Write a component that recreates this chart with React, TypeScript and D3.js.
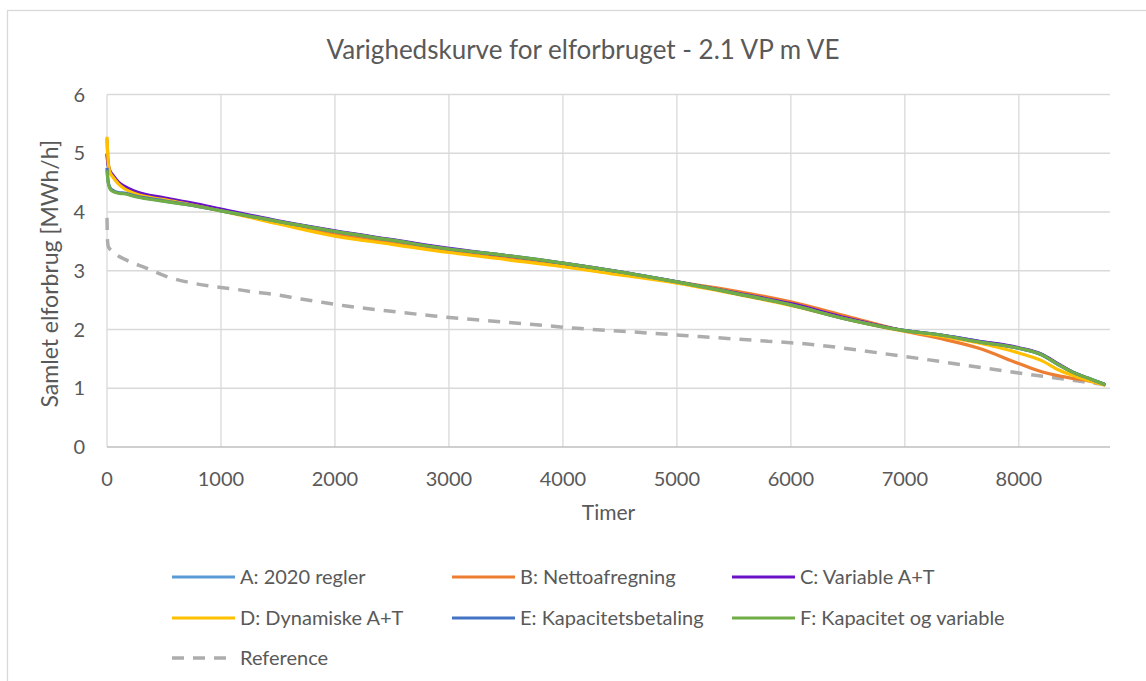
import React, { useEffect, useRef } from 'react';
import * as d3 from 'd3';

// hours on the duration curve (sorted descending load)
const hours = [0, 10, 25, 50, 100, 150, 250, 500, 750, 1000, 1500, 2000, 2500, 3000, 3500, 4000, 4500, 5000, 5500, 6000, 6500, 7000, 7300, 7650, 8000, 8200, 8350, 8500, 8600, 8760];

const seriesA = [4.98, 4.78, 4.68, 4.61, 4.49, 4.42, 4.34, 4.23, 4.14, 4.04, 3.84, 3.67, 3.52, 3.37, 3.25, 3.12, 2.97, 2.81, 2.63, 2.43, 2.18, 1.98, 1.91, 1.8, 1.68, 1.57, 1.4, 1.25, 1.18, 1.06];
const seriesB = [5.25, 4.85, 4.7, 4.62, 4.5, 4.42, 4.33, 4.22, 4.13, 4.03, 3.82, 3.62, 3.48, 3.34, 3.22, 3.1, 2.96, 2.81, 2.66, 2.47, 2.22, 1.97, 1.85, 1.68, 1.42, 1.28, 1.21, 1.16, 1.13, 1.06];
const seriesC = [5.0, 4.8, 4.7, 4.63, 4.51, 4.44, 4.35, 4.24, 4.15, 4.05, 3.85, 3.68, 3.53, 3.38, 3.26, 3.13, 2.98, 2.81, 2.63, 2.44, 2.19, 1.98, 1.91, 1.8, 1.69, 1.58, 1.41, 1.25, 1.17, 1.06];
const seriesD = [5.28, 4.85, 4.68, 4.6, 4.48, 4.4, 4.31, 4.21, 4.12, 4.02, 3.8, 3.59, 3.45, 3.31, 3.19, 3.07, 2.93, 2.79, 2.61, 2.41, 2.17, 1.97, 1.89, 1.77, 1.6, 1.47, 1.31, 1.2, 1.14, 1.05];
const seriesE = [4.75, 4.52, 4.42, 4.37, 4.33, 4.32, 4.27, 4.19, 4.11, 4.02, 3.84, 3.67, 3.52, 3.37, 3.26, 3.13, 2.98, 2.81, 2.62, 2.42, 2.17, 1.98, 1.91, 1.79, 1.68, 1.57, 1.4, 1.25, 1.18, 1.06];
const seriesF = [4.71, 4.5, 4.4, 4.35, 4.32, 4.31, 4.26, 4.18, 4.11, 4.02, 3.84, 3.67, 3.52, 3.37, 3.26, 3.13, 2.98, 2.81, 2.62, 2.42, 2.17, 1.98, 1.91, 1.79, 1.68, 1.57, 1.4, 1.25, 1.18, 1.06];

const refHours = [0, 5, 12, 50, 100, 172, 350, 525, 700, 900, 1110, 1285, 1460, 1700, 1900, 2100, 2450, 2870, 3280, 3715, 4125, 4600, 5200, 5800, 6100, 7000, 8000, 8570, 8760];
const seriesRef = [3.9, 3.5, 3.41, 3.33, 3.25, 3.18, 3.04, 2.9, 2.81, 2.74, 2.69, 2.64, 2.6, 2.52, 2.46, 2.4, 2.32, 2.23, 2.16, 2.09, 2.02, 1.96, 1.88, 1.8, 1.76, 1.54, 1.26, 1.11, 1.06];

const seriesNames = ['A: 2020 regler', 'B: Nettoafregning', 'C: Variable A+T', 'D: Dynamiske A+T', 'E: Kapacitetsbetaling', 'F: Kapacitet og variable'];
const seriesColors = ['#5B9BD5', '#ED7D31', '#6A12C8', '#FFC000', '#4472C4', '#70AD47'];
const refName = 'Reference';
const refColor = '#ADADAD';

const xTicks = [0, 1000, 2000, 3000, 4000, 5000, 6000, 7000, 8000];
const yTicks = [0, 1, 2, 3, 4, 5, 6];

const title = 'Varighedskurve for elforbruget - 2.1 VP m VE';
const xTitle = 'Timer';
const yTitle = 'Samlet elforbrug [MWh/h]';

const App = () => {
  const chartRef = useRef<SVGSVGElement>(null);

  useEffect(() => {
    const width = 1146;
    const height = 681;
    const font = 'Lato, "Open Sans", sans-serif';
    const textColor = '#595959';
    const plot = { left: 107, right: 1110, top: 94.5, bottom: 447 };

    const svg = d3.select(chartRef.current);
    svg.selectAll('*').remove();
    svg.attr('width', width).attr('height', height);

    svg.append('rect').attr('width', width).attr('height', height).attr('fill', '#fff');

    // chart frame (runs off the right and bottom of the picture)
    svg
      .append('rect')
      .attr('x', 7.5)
      .attr('y', 10.5)
      .attr('width', width + 20)
      .attr('height', height + 20)
      .attr('fill', 'none')
      .attr('stroke', '#D9D9D9')
      .attr('stroke-width', 1.3);

    const x = d3.scaleLinear().domain([0, 8800]).range([plot.left, plot.right]);
    const y = d3.scaleLinear().domain([0, 6]).range([plot.bottom, plot.top]);

    // gridlines
    svg
      .append('g')
      .selectAll('line')
      .data(yTicks.slice(1))
      .enter()
      .append('line')
      .attr('x1', plot.left)
      .attr('x2', plot.right)
      .attr('y1', (d) => y(d))
      .attr('y2', (d) => y(d))
      .attr('stroke', '#D9D9D9')
      .attr('stroke-width', 1.3);

    svg
      .append('g')
      .selectAll('line')
      .data(xTicks)
      .enter()
      .append('line')
      .attr('x1', (d) => x(d))
      .attr('x2', (d) => x(d))
      .attr('y1', plot.top)
      .attr('y2', plot.bottom)
      .attr('stroke', '#D9D9D9')
      .attr('stroke-width', 1.3);

    // x axis line
    svg
      .append('line')
      .attr('x1', plot.left)
      .attr('x2', plot.right)
      .attr('y1', y(0))
      .attr('y2', y(0))
      .attr('stroke', '#BFBFBF')
      .attr('stroke-width', 1.3);

    // tick labels
    svg
      .append('g')
      .selectAll('text')
      .data(xTicks)
      .enter()
      .append('text')
      .attr('x', (d) => x(d))
      .attr('y', 486)
      .attr('text-anchor', 'middle')
      .style('font-family', font)
      .style('font-size', '20px')
      .style('fill', textColor)
      .text((d) => d);

    svg
      .append('g')
      .selectAll('text')
      .data(yTicks)
      .enter()
      .append('text')
      .attr('x', 85)
      .attr('y', (d) => y(d) + 7)
      .attr('text-anchor', 'end')
      .style('font-family', font)
      .style('font-size', '20px')
      .style('fill', textColor)
      .text((d) => d);

    // titles
    svg
      .append('text')
      .attr('x', 583)
      .attr('y', 59)
      .attr('text-anchor', 'middle')
      .style('font-family', font)
      .style('font-size', '26px')
      .style('fill', textColor)
      .text(title);

    svg
      .append('text')
      .attr('x', (plot.left + plot.right) / 2)
      .attr('y', 520)
      .attr('text-anchor', 'middle')
      .style('font-family', font)
      .style('font-size', '21px')
      .style('fill', textColor)
      .text(xTitle);

    svg
      .append('text')
      .attr('transform', `translate(58,${(plot.top + plot.bottom) / 2 + 3}) rotate(-90)`)
      .attr('text-anchor', 'middle')
      .style('font-family', font)
      .style('font-size', '23px')
      .style('fill', textColor)
      .text(yTitle);

    const line = d3
      .line<[number, number]>()
      .x((d) => x(d[0]))
      .y((d) => y(d[1]))
      .curve(d3.curveMonotoneX);

    const allSeries = [seriesA, seriesB, seriesC, seriesD, seriesE, seriesF];

    const plotG = svg.append('g');

    plotG
      .append('path')
      .datum(refHours.map((h, i) => [h, seriesRef[i]] as [number, number]))
      .attr('d', line)
      .attr('fill', 'none')
      .attr('stroke', refColor)
      .attr('stroke-width', 3.5)
      .attr('stroke-dasharray', '12 9');

    allSeries.forEach((vals, k) => {
      plotG
        .append('path')
        .datum(hours.map((h, i) => [h, vals[i]] as [number, number]))
        .attr('d', line)
        .attr('fill', 'none')
        .attr('stroke', seriesColors[k])
        .attr('stroke-width', 3.2)
        .attr('stroke-linejoin', 'round');
    });

    // legend
    const legendItems = seriesNames
      .map((name, i) => ({ name, color: seriesColors[i], dashed: false }))
      .concat([{ name: refName, color: refColor, dashed: true }]);
    const colX = [172, 452, 732];
    const rowY = [577, 618, 658];

    const legend = svg
      .append('g')
      .selectAll('g')
      .data(legendItems)
      .enter()
      .append('g')
      .attr('transform', (d, i) => `translate(${colX[i % 3]},${rowY[Math.floor(i / 3)]})`);

    legend
      .append('line')
      .attr('x1', 0)
      .attr('x2', 63)
      .attr('stroke', (d) => d.color)
      .attr('stroke-width', (d) => (d.dashed ? 3.5 : 3.2))
      .attr('stroke-dasharray', (d) => (d.dashed ? '12 9' : null));

    legend
      .append('text')
      .attr('x', 68)
      .attr('y', 7)
      .style('font-family', font)
      .style('font-size', '20px')
      .style('fill', textColor)
      .text((d) => d.name);
  }, []);

  return (
    <div style={{ position: 'absolute', left: 0, top: 0 }}>
      <svg ref={chartRef} style={{ display: 'block' }}></svg>
    </div>
  );
};

export default App;
